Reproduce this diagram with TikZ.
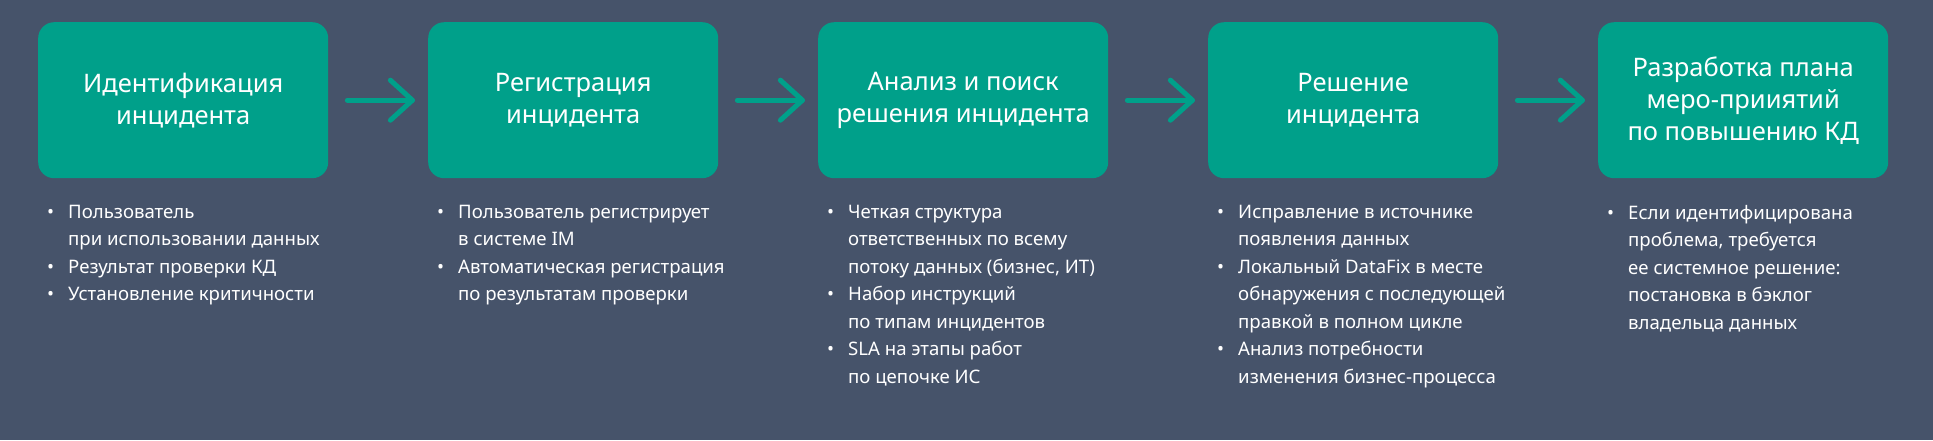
\documentclass[tikz,border=0pt]{standalone}
\usepackage{fontspec}
\setmainfont{Noto Sans}
\definecolor{bg}{HTML}{46536A}
\definecolor{teal}{HTML}{00A08A}
\begin{document}
\begin{tikzpicture}[x=1pt,y=-1pt,
  stepbox/.style={fill=teal,rounded corners=16pt,minimum width=290pt,minimum height=156pt,anchor=north west,text=white,font=\fontsize{25.5}{32}\selectfont,align=center,inner sep=0pt},
  arr/.style={draw=teal,line width=5pt,line cap=round,line join=round},
  blist/.style={anchor=north west,text=white,font=\fontsize{18.6}{27.5}\selectfont,align=left,inner sep=0pt}]
\fill[bg] (0,0) rectangle (1933,440);
\useasboundingbox (0,0) rectangle (1933,440);
\foreach \i/\t in {0/{Идентификация\\инцидента},1/{Регистрация\\инцидента},2/{Анализ и поиск\\решения инцидента},3/{Решение\\инцидента},4/{Разработка плана\\меро-прииятий\\по повышению КД}}{
  \node[stepbox] (b\i) at (38+390*\i,22) {\t};
}
\foreach \i in {0,1,2,3}{
  \coordinate (s\i) at ([xshift=19pt]b\i.east);
  \coordinate (e\i) at ([xshift=84pt]b\i.east);
  \draw[arr] (s\i) -- (e\i);
  \draw[arr] ([shift={(-22pt,-20pt)}]e\i) -- (e\i) -- ([shift={(-22pt,20pt)}]e\i);
}
\newcommand{\bl}{\llap{•\hspace{14pt}}}
\node[blist] (t0) at (68,205) {\bl Пользователь\\при использовании данных\\\bl Результат проверки КД\\\bl Установление критичности};
\node[blist] (t1) at (458,205) {\bl Пользователь регистрирует\\в системе IM\\\bl Автоматическая регистрация\\по результатам проверки};
\node[blist] (t2) at (848,205) {\bl Четкая структура\\ответственных по всему\\потоку данных (бизнес, ИТ)\\\bl Набор инструкций\\по типам инцидентов\\\bl SLA на этапы работ\\по цепочке ИС};
\node[blist] (t3) at (1238,205) {\bl Исправление в источнике\\появления данных\\\bl Локальный DataFix в месте\\обнаружения с последующей\\правкой в полном цикле\\\bl Анализ потребности\\изменения бизнес-процесса};
\node[blist] (t4) at (1628,205) {\bl Если идентифицирована\\проблема, требуется\\ее системное решение:\\постановка в бэклог\\владельца данных};
\end{tikzpicture}
\end{document}
